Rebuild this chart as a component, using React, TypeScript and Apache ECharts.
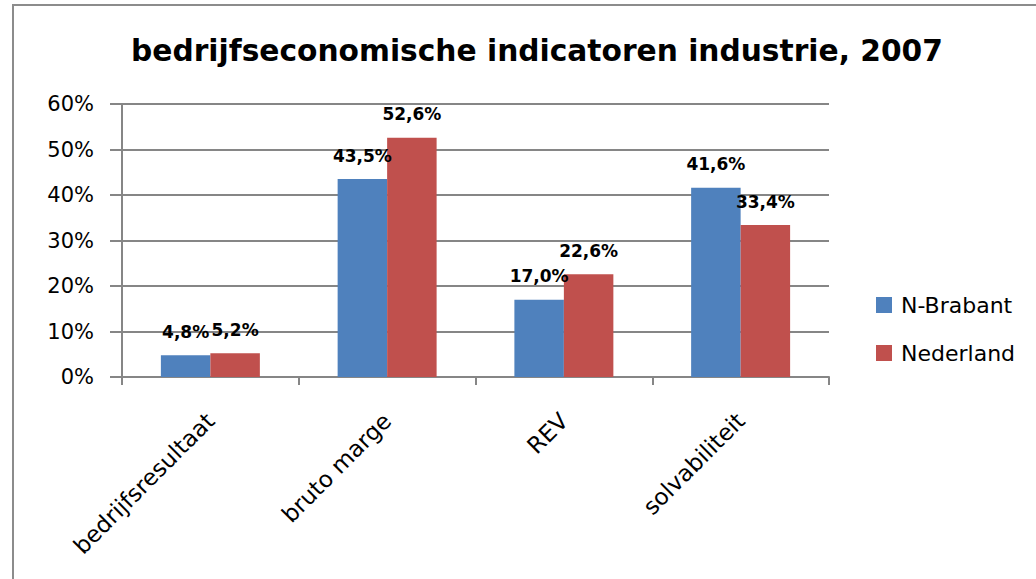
import React, { useEffect, useRef } from "react";
import * as echarts from "echarts";

const categories = ["bedrijfsresultaat", "bruto marge", "REV", "solvabiliteit"];
const brabant = [4.8, 43.5, 17.0, 41.6];
const nederland = [5.2, 52.6, 22.6, 33.4];
const seriesNames = ["N-Brabant", "Nederland"];
const titleText = "bedrijfseconomische indicatoren industrie, 2007";

const FONT = "'DejaVu Sans', sans-serif";
const fmt = (v: number) => v.toFixed(1).replace(".", ",") + "%";

export default function App() {
  const ref = useRef<HTMLDivElement>(null);
  useEffect(() => {
    document.body.style.margin = "0";
    const chart = echarts.init(ref.current!, null, { renderer: "svg" });
    const labelStyle = {
      show: true,
      position: "top" as const,
      distance: 15,
      fontFamily: FONT,
      fontWeight: "bold" as const,
      fontSize: 17,
      color: "#000",
      formatter: (p: any) => fmt(p.value),
    };
    chart.setOption({
      animation: false,
      backgroundColor: "#fff",
      textStyle: { fontFamily: FONT },
      graphic: [
        {
          type: "rect",
          shape: { x: 13, y: 5, width: 1100, height: 700 },
          style: { fill: "none", stroke: "#8c8c8c", lineWidth: 2 },
          z: -1,
        },
      ],
      title: {
        text: titleText,
        left: 532,
        textAlign: "center",
        top: 30,
        textStyle: { fontFamily: FONT, fontWeight: "bold", fontSize: 29.7, color: "#000" },
      },
      legend: {
        orient: "vertical",
        left: 876,
        top: 294,
        padding: 0,
        itemWidth: 16,
        itemHeight: 16,
        itemGap: 26,
        icon: "rect",
        textStyle: { fontFamily: FONT, fontSize: 22, color: "#000", padding: [0, 0, 0, 4] },
        data: seriesNames,
      },
      grid: { left: 122, right: 207, top: 104, bottom: 202, containLabel: false },
      xAxis: {
        type: "category",
        data: categories,
        axisLine: { lineStyle: { color: "#868686", width: 2 } },
        axisTick: { show: true, length: 8, lineStyle: { color: "#868686", width: 2 } },
        axisLabel: {
          rotate: 45,
          interval: 0,
          margin: 40,
          fontFamily: FONT,
          fontSize: 23,
          color: "#000",
        },
      },
      yAxis: {
        type: "value",
        min: 0,
        max: 60,
        interval: 10,
        axisLine: { show: true, lineStyle: { color: "#868686", width: 2 } },
        axisTick: { show: true, length: 12, lineStyle: { color: "#868686", width: 2 } },
        splitLine: { lineStyle: { color: "#868686", width: 2 } },
        axisLabel: {
          formatter: "{value}%",
          margin: 28,
          fontFamily: FONT,
          fontSize: 21,
          color: "#000",
        },
      },
      series: [
        {
          name: seriesNames[0],
          type: "bar",
          data: brabant,
          barGap: "0%",
          barCategoryGap: "44%",
          itemStyle: { color: "#4f81bd" },
          label: labelStyle,
        },
        {
          name: seriesNames[1],
          type: "bar",
          data: nederland,
          barGap: "0%",
          barCategoryGap: "44%",
          itemStyle: { color: "#c0504d" },
          label: labelStyle,
        },
      ],
    });
    return () => chart.dispose();
  }, []);
  return <div ref={ref} style={{ width: 1036, height: 579 }} />;
}
